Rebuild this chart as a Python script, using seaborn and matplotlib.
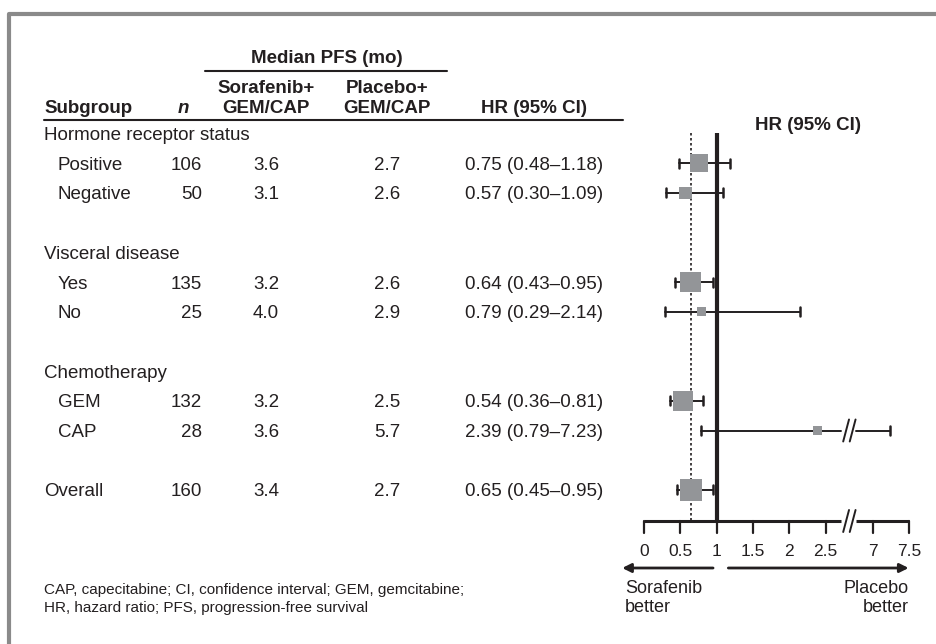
import numpy as np
import pandas as pd
import matplotlib
matplotlib.use('Agg')
import matplotlib.pyplot as plt
import seaborn as sns


# ---- data ----
group_names = ['Hormone receptor status', 'Visceral disease', 'Chemotherapy']
group_rows = [0, 4, 8]

subgroups = ['Positive', 'Negative', 'Yes', 'No', 'GEM', 'CAP', 'Overall']
sub_rows = [1, 2, 5, 6, 9, 10, 12]
n = [106, 50, 135, 25, 132, 28, 160]
pfs_sor = [3.6, 3.1, 3.2, 4.0, 3.2, 3.6, 3.4]
pfs_plc = [2.7, 2.6, 2.6, 2.9, 2.5, 5.7, 2.7]
hr = [0.75, 0.57, 0.64, 0.79, 0.54, 2.39, 0.65]
hr_lo = [0.48, 0.30, 0.43, 0.29, 0.36, 0.79, 0.45]
hr_hi = [1.18, 1.09, 0.95, 2.14, 0.81, 7.23, 0.95]

tick_vals = [0, 0.5, 1, 1.5, 2, 2.5, 7, 7.5]
tick_labels = ['0', '0.5', '1', '1.5', '2', '2.5', '7', '7.5']

footnote = ('CAP, capecitabine; CI, confidence interval; GEM, gemcitabine;\n'
            'HR, hazard ratio; PFS, progression-free survival')


def brk(v):
    # broken axis: values above 3 are shifted so 7 sits just past the break
    v = np.asarray(v, dtype=float)
    return np.where(v > 3, v - 7 + 3.15, v)


def main():
    sns.set_style('white')
    plt.rcParams['font.family'] = ['Liberation Sans', 'DejaVu Sans']
    ink = '#231f20'

    W, H = 937, 644
    fig = plt.figure(figsize=(W / 100, H / 100), dpi=100)

    # layout in pixels
    row0, rowh = 133.5, 29.7
    fs = 13.5

    def ry(r):
        return row0 + rowh * np.asarray(r, dtype=float)

    # --- table axes (pixel coords) ---
    ax_t = fig.add_axes([0, 0, 1, 1])
    ax_t.set_xlim(0, W)
    ax_t.set_ylim(H, 0)
    ax_t.axis('off')

    # frame
    ax_t.plot([9, 9, W], [H, 14, 14], color='#8a8a8a', lw=3, solid_capstyle='butt')

    x_grp, x_sub, x_n, x_sor, x_plc, x_hr = 44, 58, 202, 266, 387, 534
    bold = dict(va='center_baseline', fontsize=fs, fontweight='bold', color=ink)
    norm = dict(va='center_baseline', fontsize=fs, color=ink)

    ax_t.text((x_sor + x_plc) / 2, 56, 'Median PFS (mo)', ha='center', **bold)
    ax_t.plot([205, 447], [71, 71], color=ink, lw=1.5)
    for x, t in [(x_sor, 'Sorafenib+'), (x_plc, 'Placebo+')]:
        ax_t.text(x, 86, t, ha='center', **bold)
        ax_t.text(x, 106, 'GEM/CAP', ha='center', **bold)
    ax_t.text(x_grp, 106, 'Subgroup', ha='left', **bold)
    ax_t.text(183, 106, 'n', ha='center', style='italic', **bold)
    ax_t.text(x_hr, 106, 'HR (95% CI)', ha='center', **bold)
    ax_t.plot([x_grp, 623], [120, 120], color=ink, lw=1.5)

    for name, r in zip(group_names, group_rows):
        ax_t.text(x_grp, ry(r), name, ha='left', **norm)

    for i, name in enumerate(subgroups):
        y = ry(sub_rows[i])
        x0 = x_grp if name == 'Overall' else x_sub
        ax_t.text(x0, y, name, ha='left', **norm)
        ax_t.text(x_n, y, str(n[i]), ha='right', **norm)
        ax_t.text(x_sor, y, f'{pfs_sor[i]:.1f}', ha='center', **norm)
        ax_t.text(x_plc, y, f'{pfs_plc[i]:.1f}', ha='center', **norm)
        ax_t.text(x_hr, y, f'{hr[i]:.2f} ({hr_lo[i]:.2f}\u2013{hr_hi[i]:.2f})', ha='center',
                  **norm)

    ax_t.text(x_grp, 599, footnote, ha='left', va='center', fontsize=11, linespacing=1.3,
              color=ink)

    # --- forest axes: x in (broken) HR units, y in pixels ---
    px0, ppu = 644, 72.7
    ax_f = fig.add_axes([0, 0, 1, 1])
    ax_f.patch.set_alpha(0)

    df = pd.DataFrame({'t': brk(hr), 'y': ry(sub_rows), 'n': n})

    y_axis = 521
    y_top = 133
    overall = hr[-1]
    ax_f.plot([overall, overall], [y_top, y_axis], color=ink, lw=1.2, ls=(0, (1.5, 1.5)))
    ax_f.plot([1, 1], [y_top, y_axis], color=ink, lw=3, solid_capstyle='butt')

    gap_l, gap_r = 2.71, 2.92
    cap = 4.5
    for i in range(len(hr)):
        y = ry(sub_rows[i])
        lo, hi = brk(hr_lo[i]), brk(hr_hi[i])
        if hr_hi[i] > 3:
            ax_f.plot([lo, gap_l], [y, y], color=ink, lw=1.4)
            ax_f.plot([gap_r, hi], [y, y], color=ink, lw=1.4)
            for sx in (2.74, 2.83):
                ax_f.plot([sx, sx + 0.08], [y + 11, y - 11], color=ink, lw=1.4)
        else:
            ax_f.plot([lo, hi], [y, y], color=ink, lw=1.4)
        ax_f.plot([lo, lo], [y - cap, y + cap], color=ink, lw=1.8)
        ax_f.plot([hi, hi], [y - cap, y + cap], color=ink, lw=1.8)

    sns.scatterplot(data=df, x='t', y='y', size='n', sizes=(0, 1.59 * 160), size_norm=(0, 160),
                    marker='s', color='#939598', edgecolor='none', legend=False, ax=ax_f,
                    zorder=3)

    # broken x axis
    tk = brk(tick_vals)
    ax_f.plot([tk[0], gap_l], [y_axis, y_axis], color=ink, lw=2.2, solid_capstyle='butt')
    ax_f.plot([gap_r, tk[-1]], [y_axis, y_axis], color=ink, lw=2.2, solid_capstyle='butt')
    for sx in (2.74, 2.83):
        ax_f.plot([sx, sx + 0.08], [y_axis + 11, y_axis - 11], color=ink, lw=1.4)
    for t, lab in zip(tk, tick_labels):
        ax_f.plot([t, t], [y_axis, y_axis + 12], color=ink, lw=1.6)
        ax_f.text(t, 551, lab, ha='center', va='center', fontsize=12.5, color=ink)

    ax_f.text(2.25, 125, 'HR (95% CI)', ha='center', va='center', fontsize=fs,
              fontweight='bold', color=ink)

    # direction arrows
    ya = 568
    arrow = dict(arrowstyle='-|>', lw=2, color=ink, mutation_scale=13, shrinkA=0, shrinkB=0)
    ax_f.annotate('', xy=(-0.30, ya), xytext=(0.95, ya), arrowprops=arrow)
    ax_f.annotate('', xy=(3.64, ya), xytext=(1.16, ya), arrowprops=arrow)
    ax_f.text(-0.26, 598, 'Sorafenib\nbetter', ha='left', va='center', fontsize=13,
              linespacing=1.2, color=ink)
    ax_f.text(3.64, 598, 'Placebo\nbetter', ha='right', va='center', fontsize=13,
              linespacing=1.2, multialignment='right', color=ink)

    ax_f.set_xlim(-px0 / ppu, (W - px0) / ppu)
    ax_f.set_ylim(H, 0)
    ax_f.axis('off')

    fig.savefig('out.png', dpi=100)


if __name__ == '__main__':
    main()
